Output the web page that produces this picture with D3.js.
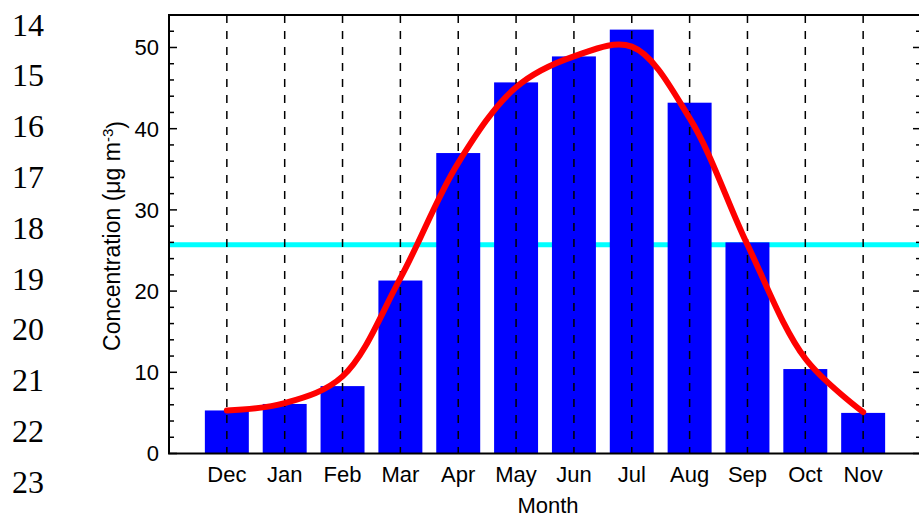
<!DOCTYPE html>
<html>
<head>
<meta charset="utf-8">
<script src="https://cdn.jsdelivr.net/npm/d3@7"></script>
<style>
  body { margin: 0; background: #fff; }
  svg text { font-family: "Liberation Sans", Arial, sans-serif; fill: #000; }
</style>
</head>
<body>
<div id="chart"></div>
<script>
// Monthly data, Dec -> Nov
const months = ["Dec", "Jan", "Feb", "Mar", "Apr", "May", "Jun", "Jul", "Aug", "Sep", "Oct", "Nov"];
const concentration = [5.3, 6.1, 8.3, 21.3, 37.0, 45.7, 48.9, 52.2, 43.2, 26.0, 10.4, 5.0];
const fitted = [5.3, 6.2, 9.5, 21.6, 35.8, 45.1, 48.9, 50.1, 41.3, 25.7, 11.7, 5.1];
const annualMean = 25.7;
const yTicks = [0, 10, 20, 30, 40, 50];
const lineNumbers = [14, 15, 16, 17, 18, 19, 20, 21, 22, 23];

const width = 919, height = 519;
const margin = {top: 15, right: -2, bottom: 65.5, left: 169};

const svg = d3.select("#chart")
    .append("svg")
    .attr("width", width)
    .attr("height", height);

// document line numbers down the left side
svg.append("g")
    .selectAll("text")
    .data(lineNumbers)
    .enter()
    .append("text")
    .attr("x", 12)
    .attr("y", function(d, i) { return 35.5 + i * 50.8; })
    .style("font-family", "'Liberation Serif', 'Times New Roman', serif")
    .style("font-size", "32px")
    .text(function(d) { return d; });

const x = d3.scaleLinear()
    .domain([-1, months.length])
    .range([margin.left, width - margin.right]);

const y = d3.scaleLinear()
    .domain([0, 54])
    .range([height - margin.bottom, margin.top]);

// annual mean line
svg.append("line")
    .attr("x1", x(-1))
    .attr("x2", x(months.length))
    .attr("y1", y(annualMean))
    .attr("y2", y(annualMean))
    .attr("stroke", "#00ffff")
    .attr("stroke-width", 5);

// bars
const barW = (x(1) - x(0)) * 0.76;
svg.selectAll("rect.bar")
    .data(concentration)
    .enter()
    .append("rect")
    .attr("class", "bar")
    .attr("x", function(d, i) { return x(i) - barW / 2; })
    .attr("y", function(d) { return y(d); })
    .attr("width", barW)
    .attr("height", function(d) { return y(0) - y(d); })
    .attr("fill", "#0000ff");

// dashed vertical grid at each month
svg.selectAll("line.grid")
    .data(months)
    .enter()
    .append("line")
    .attr("class", "grid")
    .attr("x1", function(d, i) { return x(i); })
    .attr("x2", function(d, i) { return x(i); })
    .attr("y1", y(54))
    .attr("y2", y(0))
    .attr("stroke", "#000")
    .attr("stroke-width", 1.5)
    .attr("stroke-dasharray", "8,8");

// smooth fitted curve
const line = d3.line()
    .x(function(d, i) { return x(i); })
    .y(function(d) { return y(d); })
    .curve(d3.curveCatmullRom.alpha(0.5));

svg.append("path")
    .datum(fitted)
    .attr("d", line)
    .attr("fill", "none")
    .attr("stroke", "#ff0000")
    .attr("stroke-width", 6)
    .attr("stroke-linecap", "round");

// frame
svg.append("rect")
    .attr("x", x(-1))
    .attr("y", y(54))
    .attr("width", x(months.length) - x(-1))
    .attr("height", y(0) - y(54))
    .attr("fill", "none")
    .attr("stroke", "#000")
    .attr("stroke-width", 2);

// y ticks (inward, both sides)
const minor = d3.range(0, 54, 2);
function addTicks(xEdge, dir) {
    svg.append("g")
        .selectAll("line")
        .data(minor)
        .enter()
        .append("line")
        .attr("x1", xEdge)
        .attr("x2", function(d) { return xEdge + dir * (d % 10 === 0 ? 8 : 5); })
        .attr("y1", function(d) { return y(d); })
        .attr("y2", function(d) { return y(d); })
        .attr("stroke", "#000")
        .attr("stroke-width", 1.5);
}
addTicks(x(-1), 1);
addTicks(x(months.length), -1);

svg.append("g")
    .selectAll("text")
    .data(yTicks)
    .enter()
    .append("text")
    .attr("x", 159)
    .attr("y", function(d) { return y(d); })
    .attr("dy", "0.36em")
    .attr("text-anchor", "end")
    .style("font-size", "22px")
    .text(function(d) { return d; });

// month labels
svg.append("g")
    .selectAll("text")
    .data(months)
    .enter()
    .append("text")
    .attr("x", function(d, i) { return x(i); })
    .attr("y", 482)
    .attr("text-anchor", "middle")
    .style("font-size", "22px")
    .text(function(d) { return d; });

// axis titles
svg.append("text")
    .attr("x", 548)
    .attr("y", 513)
    .attr("text-anchor", "middle")
    .style("font-size", "22px")
    .text("Month");

const yTitle = svg.append("text")
    .attr("transform", "translate(120,236) rotate(-90)")
    .attr("text-anchor", "middle")
    .style("font-size", "23px");
yTitle.append("tspan").text("Concentration (\u03bcg m");
yTitle.append("tspan").attr("dy", "-0.5em").style("font-size", "15px").text("-3");
yTitle.append("tspan").attr("dy", "0.5em").text(")");
</script>
</body>
</html>
